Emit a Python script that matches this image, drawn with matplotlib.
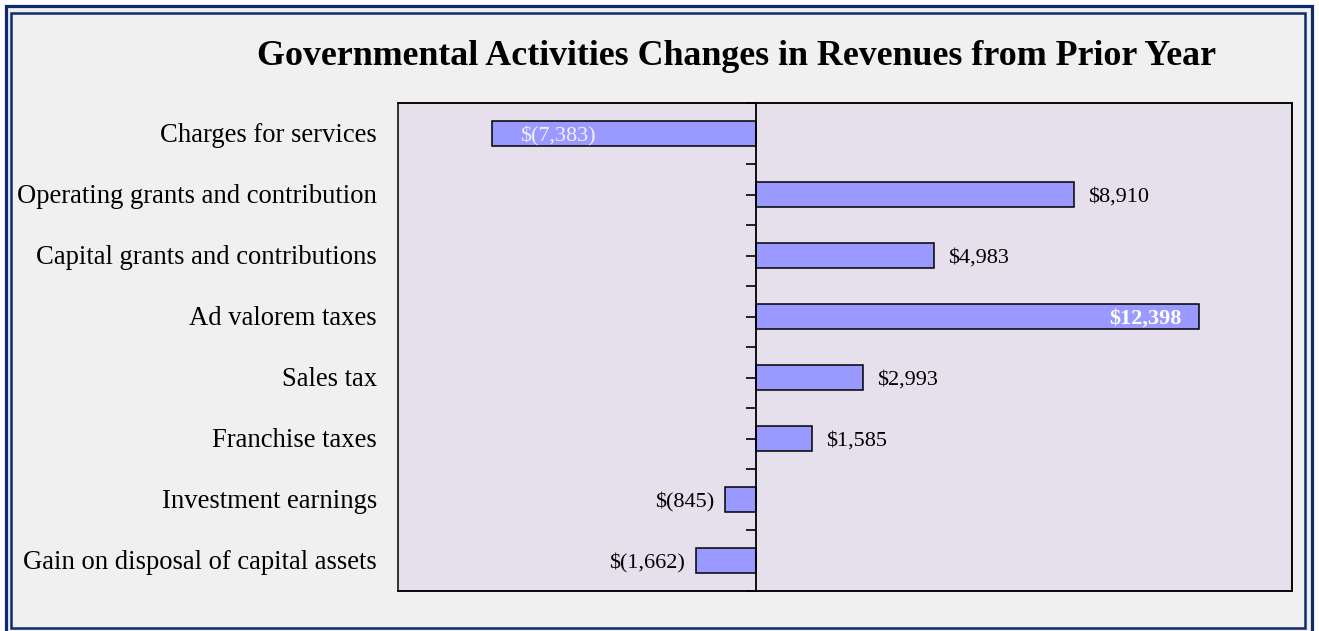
import numpy as np
import matplotlib
matplotlib.use("Agg")
import matplotlib.pyplot as plt
from matplotlib.patches import Rectangle
import matplotlib.transforms as mtransforms

# ---- data ----
categories = [
    "Charges for services",
    "Operating grants and contribution",
    "Capital grants and contributions",
    "Ad valorem taxes",
    "Sales tax",
    "Franchise taxes",
    "Investment earnings",
    "Gain on disposal of capital assets",
]
changes = [-7383, 8910, 4983, 12398, 2993, 1585, -845, -1662]
title = "Governmental Activities Changes in Revenues from Prior Year"

# ---- figure ----
W, H = 1319, 631
DPI = 100
plt.rcParams['font.family'] = ['Liberation Serif', 'DejaVu Serif']
fig = plt.figure(figsize=(W / DPI, H / DPI), dpi=DPI, facecolor='white')

def fx(px):
    return px / W

def fy(py):
    return 1 - py / H

navy = '#0E2C6C'
# outer border (filled with light gray)
fig.patches.append(Rectangle((fx(5.5), fy(634)), fx(1311.5) - fx(5.5), fy(6) - fy(634),
                             transform=fig.transFigure, facecolor='#F0F0F0',
                             edgecolor=navy, linewidth=2.3, zorder=-2))
# inner border
fig.patches.append(Rectangle((fx(10.5), fy(627.5)), fx(1304.5) - fx(10.5), fy(12.5) - fy(627.5),
                             transform=fig.transFigure, facecolor='none',
                             edgecolor=navy, linewidth=1.8, zorder=-1))

ax_l, ax_r, ax_t, ax_b = 398, 1292, 103, 591
ax = fig.add_axes([fx(ax_l), fy(ax_b), fx(ax_r) - fx(ax_l), fy(ax_t) - fy(ax_b)])
ax.set_zorder(1)
ax.set_facecolor('#E6E0EC')

y = np.arange(len(categories))
bars = ax.barh(y, changes, height=0.41, color='#9999FF', edgecolor='black', linewidth=1.1, zorder=2)

ax.set_xlim(-10000, 15000)
ax.set_ylim(len(categories) - 0.5, -0.5)
ax.set_xticks([])

# y axis line at zero
for s in ['top', 'right', 'bottom']:
    ax.spines[s].set_linewidth(1.1)
    ax.spines[s].set_color('black')
ax.spines['left'].set_position(('data', 0))
ax.spines['left'].set_linewidth(1.3)
ax.spines['left'].set_zorder(3)
ax.set_yticks(np.arange(-0.5, len(categories), 0.5))
ax.set_yticklabels([])
ax.tick_params(axis='y', direction='out', length=7, width=1.2, color='black')
for t in ax.yaxis.get_major_ticks():
    t.tick1line.set_zorder(4)
# left frame edge
ax.add_patch(Rectangle((0, 0), 1, 1, transform=ax.transAxes, fill=False,
                       edgecolor='black', linewidth=1.1, zorder=5, clip_on=False))

# category labels
blend = mtransforms.blended_transform_factory(ax.transAxes, ax.transData)
pt = 72 / DPI
for i, c in enumerate(categories):
    ax.annotate(c, xy=(0, i), xycoords=blend, xytext=(-21 * pt, -8.5 * pt),
                textcoords='offset points', ha='right', va='baseline',
                fontsize=19.2, color='black', annotation_clip=False)

# value labels
def fmt(v):
    return f"${v:,}" if v >= 0 else f"$({-v:,})"

for i, v in enumerate(changes):
    txt = fmt(v)
    if i == 0:
        ax.annotate(txt, xy=(v, i), xytext=(28 * pt, -7.5 * pt), textcoords='offset points',
                    ha='left', va='baseline', fontsize=16, color='#F2F0FF', zorder=6)
    elif i == 3:
        ax.annotate(txt, xy=(v, i), xytext=(-17 * pt, -7.5 * pt), textcoords='offset points',
                    ha='right', va='baseline', fontsize=16, fontweight='bold', color='white', zorder=6)
    elif v >= 0:
        ax.annotate(txt, xy=(v, i), xytext=(14 * pt, -7.5 * pt), textcoords='offset points',
                    ha='left', va='baseline', fontsize=16, color='black', zorder=6)
    else:
        ax.annotate(txt, xy=(v, i), xytext=(-11 * pt, -7.5 * pt), textcoords='offset points',
                    ha='right', va='baseline', fontsize=16, color='black', zorder=6)

fig.text(fx(736.5), fy(65), title, ha='center', va='baseline', fontsize=25.8,
         fontweight='bold', color='black')

fig.savefig('out.png', dpi=DPI, facecolor=fig.get_facecolor())
